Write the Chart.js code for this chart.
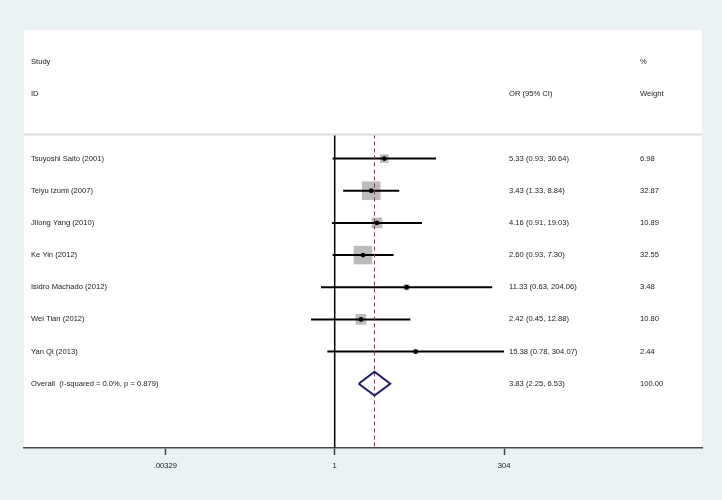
<!DOCTYPE html>
<html>
<head>
<meta charset="utf-8">
<script src="https://cdn.jsdelivr.net/npm/chart.js@4"></script>
<style>
  html, body { margin: 0; padding: 0; background: #eaf2f3; }
  #wrap { width: 722px; height: 500px; position: relative; }
</style>
</head>
<body>
<div id="wrap"><canvas id="forest"></canvas></div>
<script>
// study data
const studies = ['Tsuyoshi Saito (2001)', 'Teiyu Izumi (2007)', 'Jilong Yang (2010)', 'Ke Yin (2012)',
    'Isidro Machado (2012)', 'Wei Tian (2012)', 'Yan Qi (2013)'];
const orValues = [5.33, 3.43, 4.16, 2.60, 11.33, 2.42, 15.38];
const ciLow = [0.93, 1.33, 0.91, 0.93, 0.63, 0.45, 0.78];
const ciHigh = [30.64, 8.84, 19.03, 7.30, 204.06, 12.88, 304.07];
const weights = [6.98, 32.87, 10.89, 32.55, 3.48, 10.80, 2.44];

const overallLabel = 'Overall  (I-squared = 0.0%, p = 0.879)';
const overallOR = 3.83;
const overallLow = 2.25;
const overallHigh = 6.53;
const overallWeight = 100.00;

const tickValues = [0.00329, 1, 304];
const tickLabels = ['.00329', '1', '304'];

const FONT = '7.6px "Liberation Sans", Arial, sans-serif';
const overallRow = studies.length;
const lineTop = -0.75;
const lineBottom = 9;

const ciDatasets = studies.map((s, i) => ({
    type: 'line',
    data: [{ x: ciLow[i], y: i }, { x: ciHigh[i], y: i }],
    borderColor: '#000',
    borderWidth: 2,
    pointRadius: 0,
    order: 3
}));

const boxData = studies.map((s, i) => ({ x: orValues[i], y: i }));

const forestText = {
    id: 'forestText',
    beforeDraw(chart) {
        const { ctx, chartArea } = chart;
        ctx.save();
        ctx.fillStyle = '#eaf2f3';
        ctx.fillRect(0, 0, chart.width, chart.height);
        ctx.fillStyle = '#fff';
        ctx.fillRect(chartArea.left, chartArea.top, chartArea.right - chartArea.left, chartArea.bottom - chartArea.top);
        ctx.restore();
    },
    afterDatasetsDraw(chart) {
        const { ctx, chartArea } = chart;
        const yScale = chart.scales.y;
        const colStudy = chartArea.left + 7;
        const colOR = chartArea.left + 485;
        const colW = chartArea.left + 616;

        ctx.save();
        // separator under the header
        const sepY = yScale.getPixelForValue(lineTop);
        ctx.strokeStyle = '#dcdcdc';
        ctx.lineWidth = 2;
        ctx.beginPath();
        ctx.moveTo(chartArea.left, sepY);
        ctx.lineTo(chartArea.right, sepY);
        ctx.stroke();

        ctx.font = FONT;
        ctx.fillStyle = '#1a1a1a';
        ctx.textBaseline = 'middle';
        ctx.textAlign = 'left';

        ctx.fillText('Study', colStudy, yScale.getPixelForValue(-3));
        ctx.fillText('ID', colStudy, yScale.getPixelForValue(-2));
        ctx.fillText('OR (95% CI)', colOR, yScale.getPixelForValue(-2));
        ctx.fillText('%', colW, yScale.getPixelForValue(-3));
        ctx.fillText('Weight', colW, yScale.getPixelForValue(-2));

        studies.forEach((s, i) => {
            const y = yScale.getPixelForValue(i);
            ctx.fillText(s, colStudy, y);
            ctx.fillText(orValues[i].toFixed(2) + ' (' + ciLow[i].toFixed(2) + ', ' + ciHigh[i].toFixed(2) + ')', colOR, y);
            ctx.fillText(weights[i].toFixed(2), colW, y);
        });
        const yo = yScale.getPixelForValue(overallRow);
        ctx.fillText(overallLabel, colStudy, yo);
        ctx.fillText(overallOR.toFixed(2) + ' (' + overallLow.toFixed(2) + ', ' + overallHigh.toFixed(2) + ')', colOR, yo);
        ctx.fillText(overallWeight.toFixed(2), colW, yo);
        ctx.restore();
    }
};

new Chart(document.getElementById('forest'), {
    data: {
        datasets: [
            {
                type: 'scatter',
                data: boxData,
                pointStyle: 'circle',
                pointRadius: 2.4,
                backgroundColor: '#000',
                borderWidth: 0,
                order: 0
            },
            {
                type: 'line',
                data: [
                    { x: overallLow, y: overallRow },
                    { x: overallOR, y: overallRow - 0.37 },
                    { x: overallHigh, y: overallRow },
                    { x: overallOR, y: overallRow + 0.37 },
                    { x: overallLow, y: overallRow }
                ],
                borderColor: '#1c1c6e',
                borderWidth: 2,
                pointRadius: 0,
                fill: false,
                order: 1
            },
            {
                type: 'line',
                data: [{ x: overallOR, y: lineTop }, { x: overallOR, y: lineBottom }],
                borderColor: '#a3283a',
                borderWidth: 1,
                borderDash: [4, 3],
                pointRadius: 0,
                order: 2
            },
            {
                type: 'line',
                data: [{ x: 1, y: lineTop }, { x: 1, y: lineBottom }],
                borderColor: '#000',
                borderWidth: 1.5,
                pointRadius: 0,
                order: 2
            },
            ...ciDatasets,
            {
                type: 'scatter',
                data: boxData,
                pointStyle: 'rect',
                pointRadius: weights.map(w => 2.3 * Math.sqrt(w)),
                backgroundColor: '#bcbcbc',
                borderWidth: 0,
                order: 5
            }
        ]
    },
    options: {
        responsive: true,
        maintainAspectRatio: false,
        animation: false,
        layout: { padding: { left: 24, right: 20, top: 30, bottom: 0 } },
        plugins: {
            legend: { display: false },
            tooltip: { enabled: false }
        },
        scales: {
            x: {
                type: 'logarithmic',
                min: Math.pow(10, -4.556),
                max: Math.pow(10, 5.386),
                afterBuildTicks: (scale) => {
                    scale.ticks = tickValues.map(v => ({ value: v }));
                },
                afterFit: (scale) => {
                    scale.height = 52;
                },
                ticks: {
                    autoSkip: false,
                    maxRotation: 0,
                    padding: 6,
                    color: '#1a1a1a',
                    font: { family: '"Liberation Sans", Arial, sans-serif', size: 7.6 },
                    callback: (value, index) => tickLabels[index]
                },
                grid: {
                    drawOnChartArea: false,
                    drawTicks: true,
                    tickLength: 7,
                    tickColor: '#444',
                    tickWidth: 1.5
                },
                border: { display: true, color: '#4a4a4a', width: 1.5 }
            },
            y: {
                type: 'linear',
                reverse: true,
                min: -4,
                max: 9,
                display: false
            }
        }
    },
    plugins: [forestText]
});
</script>
</body>
</html>
